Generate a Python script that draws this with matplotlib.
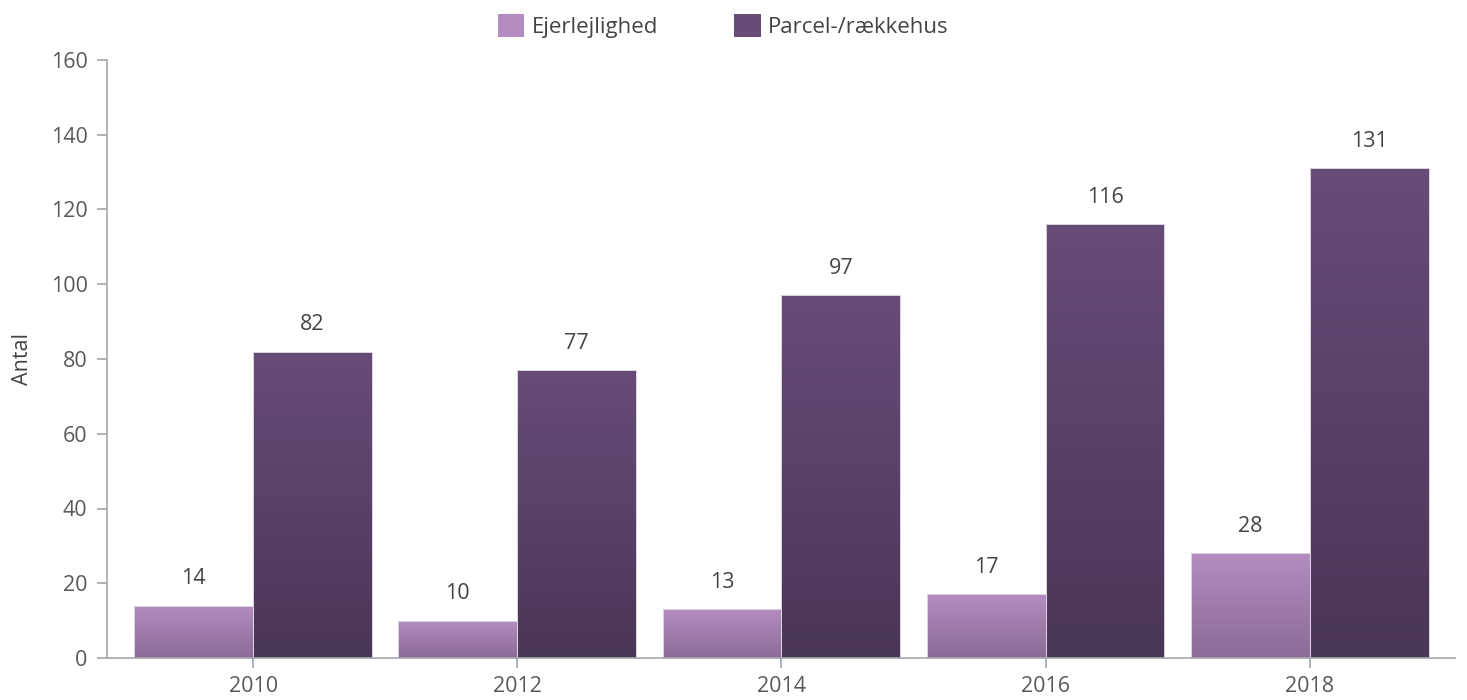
import matplotlib
matplotlib.use("Agg")
import matplotlib.pyplot as plt
import numpy as np
from matplotlib.colors import LinearSegmentedColormap
from matplotlib.patches import Patch

plt.rcParams['font.family'] = ['Open Sans', 'DejaVu Sans']

years = ["2010", "2012", "2014", "2016", "2018"]
series_names = ["Ejerlejlighed", "Parcel-/rækkehus"]
ejerlejlighed = [14, 10, 13, 17, 28]
parcel = [82, 77, 97, 116, 131]
y_ticks = [0, 20, 40, 60, 80, 100, 120, 140, 160]

light_top, light_bot = "#b48cc1", "#8b6b97"
dark_top, dark_bot = "#674c77", "#4a3657"

fig = plt.figure(figsize=(14.67, 7.0), dpi=100)
ax = fig.add_axes([107/1467, 42/700, (1455-107)/1467, (658-60)/700])

x = np.arange(len(years))
w = 0.45
b1 = ax.bar(x - w/2, ejerlejlighed, width=w, color=light_top, zorder=2, linewidth=0)
b2 = ax.bar(x + w/2, parcel, width=w, color=dark_top, zorder=2, linewidth=0)

grad = np.linspace(0, 1, 256).reshape(-1, 1)
for bars, top, bot in [(b1, light_top, light_bot), (b2, dark_top, dark_bot)]:
    cmap = LinearSegmentedColormap.from_list("g", [bot, top])
    for bar in bars:
        x0, y0 = bar.get_x(), bar.get_y()
        bw, bh = bar.get_width(), bar.get_height()
        im = ax.imshow(grad, extent=[x0, x0 + bw, y0, y0 + bh], origin='lower',
                       aspect='auto', cmap=cmap, zorder=3)
        im.set_clip_path(bar)
        ax.add_patch(plt.Rectangle((x0, y0), bw, bh, fill=False,
                                   edgecolor="#ddd6e0", linewidth=0.7, zorder=4))

for bars, vals in [(b1, ejerlejlighed), (b2, parcel)]:
    for bar, v in zip(bars, vals):
        ax.annotate(str(v), (bar.get_x() + bar.get_width()/2, bar.get_height()),
                    xytext=(0, 12), textcoords='offset points', ha='center', va='bottom',
                    fontsize=15.5, color="#444444")

ax.set_xlim(-0.553, 4.55)
ax.set_ylim(0, 160)
ax.set_yticks(y_ticks)
ax.set_xticks(x)
ax.set_xticklabels(years)
for s in ['top', 'right']:
    ax.spines[s].set_visible(False)
for s in ['left', 'bottom']:
    ax.spines[s].set_color("#a3a7ab")
    ax.spines[s].set_linewidth(1.2)
    ax.spines[s].set_zorder(5)
ax.tick_params(axis='both', colors="#a3a7ab", labelcolor="#595959", labelsize=15.5,
               length=7, width=1.2)
ax.tick_params(axis='x', pad=6)
ax.tick_params(axis='y', pad=7)
ax.set_ylabel("Antal", fontsize=15.5, color="#444444", labelpad=13)

handles = [Patch(facecolor=light_top, edgecolor='none'), Patch(facecolor=dark_top, edgecolor='none')]
fig.legend(handles, series_names, loc='upper center', bbox_to_anchor=(0.493, 1.008),
           ncol=2, frameon=False, fontsize=16, handlelength=1.2, handleheight=1.2,
           handletextpad=0.35, columnspacing=3.4, labelcolor="#444444")

fig.savefig("out.png", dpi=100)
